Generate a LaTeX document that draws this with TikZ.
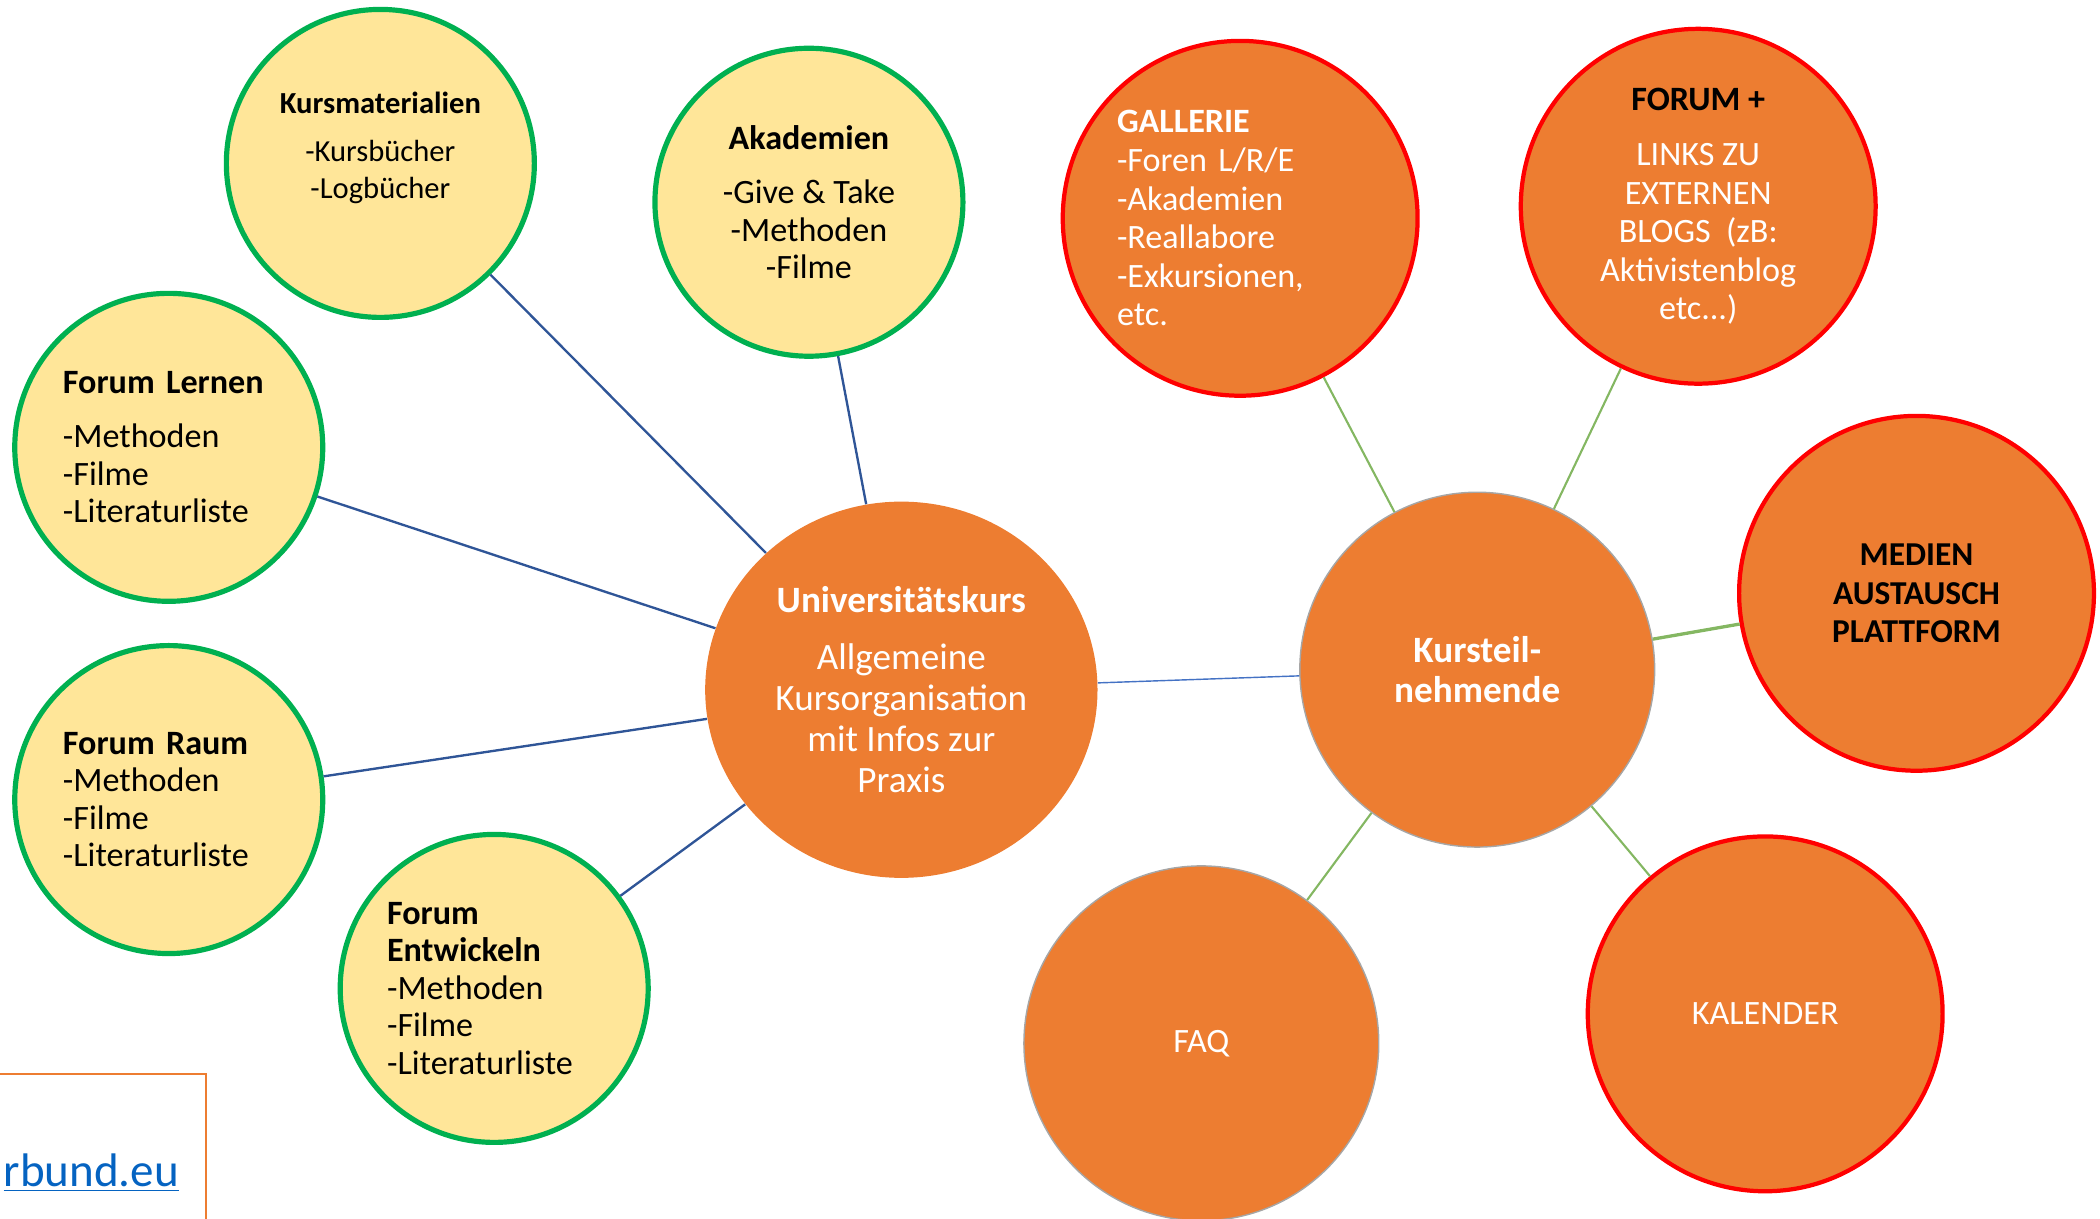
\documentclass[tikz,border=0pt]{standalone}
\usepackage{fontspec}
\setmainfont{Carlito}
\usepackage{tikz}
\usetikzlibrary{shapes.geometric}
\tikzset{>=latex}
\definecolor{gelb}{HTML}{FFE699}
\definecolor{gruen}{HTML}{00B050}
\definecolor{kursorange}{HTML}{ED7D31}
\definecolor{rot}{HTML}{FF0000}
\definecolor{dunkelblau}{HTML}{2F5597}
\definecolor{hellblau}{HTML}{4472C4}
\definecolor{hellgruen}{HTML}{84B762}
\definecolor{linkblau}{HTML}{0563C1}
\tikzset{
  forum/.style={circle,draw=gruen,line width=2.2pt,fill=gelb,minimum size=4.6cm,
    inner sep=0pt,font=\fontsize{14.5}{16}\selectfont},
  extra/.style={circle,draw=rot,line width=1.8pt,fill=kursorange,minimum size=5.3cm,
    inner sep=0pt,text=white,font=\fontsize{14.5}{16.4}\selectfont},
  mitte/.style={circle,draw=gray!70,line width=0.6pt,fill=kursorange,minimum size=5.3cm,
    inner sep=0pt,text=white,font=\fontsize{14.5}{16.4}\selectfont},
  blaulinie/.style={draw=dunkelblau,line width=1pt},
  gruenlinie/.style={draw=hellgruen,line width=0.9pt}
}

\begin{document}
\begin{tikzpicture}[x=0.02cm,y=-0.02cm]
       \useasboundingbox (0,0) rectangle (1568,910);
       \clip (0,0) rectangle (1568,910);
       \node[forum,align=center,font=\fontsize{13}{15.4}\selectfont] (kurs) at (284,122)
            {\textbf{Kursmaterialien}\\[5pt]-Kursbücher\\-Logbücher\\\mbox{}};
       \node[forum,align=center] (akad) at (604,151)
            {\textbf{Akademien}\\[7pt]-Give \& Take\\-Methoden\\-Filme};
       \node[forum,align=left,text width=3.16cm] (lernen) at (126,334)
            {\textbf{Forum Lernen}\\[7pt]-Methoden\\-Filme\\-Literaturliste};
       \node[forum,align=left,text width=3.16cm] (raum) at (126,597)
            {\textbf{Forum Raum}\\-Methoden\\-Filme\\-Literaturliste};
       \node[forum,align=left,text width=3.2cm] (entw) at (369,738)
            {\textbf{Forum}\\\textbf{Entwickeln}\\-Methoden\\-Filme\\-Literaturliste};
       \node[ellipse,fill=kursorange,minimum width=5.86cm,minimum height=5.62cm,inner sep=0pt,
            text=white,align=center,font=\fontsize{15.8}{17.4}\selectfont] (uni) at (673,515)
            {\textbf{Universitätskurs}\\[7pt]Allgemeine\\Kursorganisation\\mit Infos zur\\Praxis};
       \node[mitte,align=center,font=\bfseries\fontsize{15.8}{17}\selectfont] (kt) at (1103,500)
            {Kursteil-\\nehmende};
       \node[extra,align=left,text width=3.68cm] (gall) at (926,163)
            {\textbf{GALLERIE}\\-Foren L/R/E\\-Akademien\\-Reallabore\\-Exkursionen,\\etc.};
       \node[extra,align=center] (forplus) at (1268,154)
            {\textcolor{black}{\textbf{FORUM +}}\\[7pt]LINKS ZU\\EXTERNEN\\BLOGS~~(zB:\\Aktivistenblog\\etc...)};
       \node[extra,align=center,text=black,font=\bfseries\fontsize{14.2}{16.5}\selectfont] (medien) at (1431,443)
            {MEDIEN\\AUSTAUSCH\\PLATTFORM};
       \node[mitte] (faq) at (897,779) {FAQ};
       \node[extra] (kal) at (1318,757) {KALENDER};
       \draw[blaulinie] (kurs) -- (uni);
       \draw[blaulinie] (akad) -- (uni);
       \draw[blaulinie] (lernen) -- (uni);
       \draw[blaulinie] (raum) -- (uni);
       \draw[blaulinie] (entw) -- (uni);
       \draw[hellblau,line width=0.6pt] (uni) -- (kt);
       \draw[gruenlinie] (gall) -- (kt);
       \draw[gruenlinie] (forplus) -- (kt);
       \draw[gruenlinie,line width=1.4pt] (medien) -- (kt);
       \draw[gruenlinie] (faq) -- (kt);
       \draw[gruenlinie] (kal) -- (kt);
       \draw[kursorange,line width=0.8pt] (-5,802) rectangle (154,920);
       \node[anchor=base east,inner sep=0pt,text=linkblau,font=\fontsize{20}{24}\selectfont] (link) at (134,886)
            {\underline{rbund.eu}};
      \end{tikzpicture}
\end{document}
